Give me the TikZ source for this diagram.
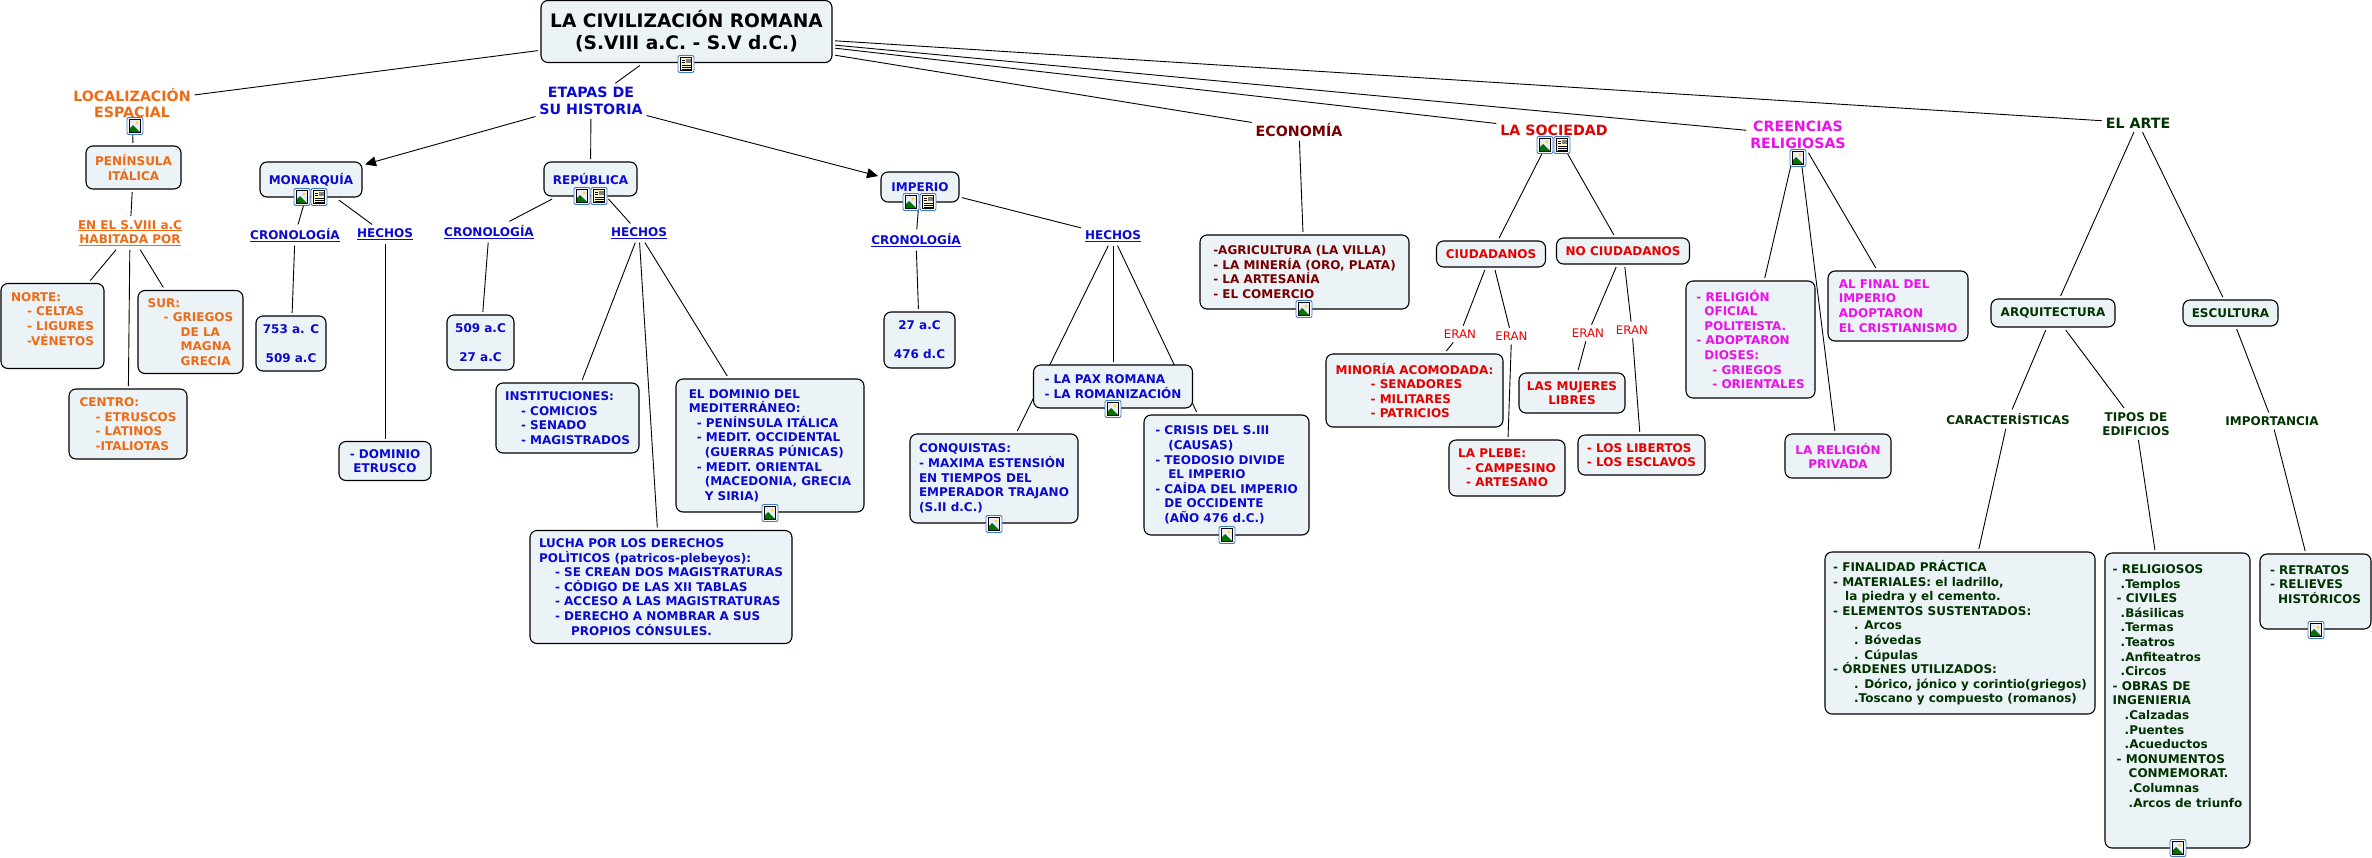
\documentclass[tikz,border=0pt]{standalone}
\usepackage{fontspec}
\setmainfont{DejaVu Sans}
\usetikzlibrary{shapes,arrows.meta,backgrounds}

\definecolor{boxfill}{HTML}{ECF3F6}
\definecolor{iconblue}{HTML}{3C78C8}
\definecolor{locorange}{HTML}{EE6A14}
\definecolor{histblue}{HTML}{0A0AD2}
\definecolor{econred}{HTML}{780000}
\definecolor{socred}{HTML}{E60000}
\definecolor{relmag}{HTML}{EC10EC}
\definecolor{artgreen}{HTML}{003300}

\newcommand{\tabto}[1]{\hspace*{#1pt}}

\tikzset{
    box/.style 2 args={draw=black, line width=1.1pt, fill=boxfill, rounded corners=7pt,
        inner sep=0pt, outer sep=3pt, align=left, font=\fontsize{12}{14.6}\selectfont\bfseries,
        minimum width=#1pt, minimum height=#2pt},
    title/.style={inner sep=1pt, outer sep=3pt, align=center, font=\fontsize{14.2}{16.8}\selectfont\bfseries},
    word/.style={inner sep=1pt, outer sep=3pt, align=center, font=\fontsize{12}{14.6}\selectfont\bfseries},
    eran/.style={inner sep=1pt, outer sep=3pt, font=\fontsize{11.8}{14}\selectfont},
    link/.style={line width=0.9pt, black},
    arrowlink/.style={link, -{Triangle[length=11pt,width=10pt]}},
    imgicon/.pic={
        \draw [iconblue, line width=.9pt, fill=white, rounded corners=2pt] (-8,-8.5) rectangle (8,8.5);
        \draw [black, line width=.7pt, fill=blue!8] (-5.5,-6.5) rectangle (5.5,6.5);
        \fill [green!45!black] (-5,6) -- (-5,2) -- (-2,-1) -- (5,6) -- cycle;
        \fill [yellow!80!orange] (2,-3) circle (1.7);
    },
    docicon/.pic={
        \draw [iconblue, line width=.9pt, fill=white, rounded corners=2pt] (-8,-8.5) rectangle (8,8.5);
        \draw [black, line width=.7pt, fill=yellow!20] (-5.5,-6.5) rectangle (5.5,6.5);
        \fill [gray] (0,-5.5) rectangle (4.5,-1);
        \foreach \y in {-4,-1.5}{%
            \draw [black, line width=.6pt] (-4.5,\y) -- (-1,\y);}
        \foreach \y in {1,3,5}{%
            \draw [black, line width=.6pt] (-4.5,\y) -- (4.5,\y);}
    }
}

\begin{document}
\begin{tikzpicture}[x=1pt,y=-1pt]
    \useasboundingbox (0,0) rectangle (2372,857);

    % Root of the map:
    \node [box={291}{62}, align=center, font=\fontsize{18.6}{22}\selectfont\bfseries] (root) at (686.5,31.5)
        {LA CIVILIZACIÓN ROMANA\\(S.VIII a.C. - S.V d.C.)};

    % Localizacion:
    \begin{scope}[text=locorange]
    \node [title] (loc) at (132,103) {LOCALIZACIÓN\\ESPACIAL};
    \node [box={95}{43}, align=center] (peninsula) at (133.5,167.5) {PENÍNSULA\\ITÁLICA};
    \node [word] (habitada) at (130,233) {\underline{EN EL S.VIII a.C}\\\underline{HABITADA POR}};
    \node [box={103}{85}] (norte) at (52.5,326)
        {NORTE:\\\tabto{16}- CELTAS\\\tabto{16}- LIGURES\\\tabto{16}-VÉNETOS\\~};
    \node [box={105}{83}] (sur) at (190.5,332)
        {SUR:\\\tabto{16}- GRIEGOS\\\tabto{33}DE LA\\\tabto{33}MAGNA\\\tabto{33}GRECIA};
    \node [box={118}{70}] (centro) at (128,424)
        {CENTRO:\\\tabto{16}- ETRUSCOS\\\tabto{16}- LATINOS\\\tabto{16}-ITALIOTAS};
    \end{scope}

    % Etapas, with its three periods:
    \begin{scope}[text=histblue]
    \node [title] (etapas) at (591,101) {ETAPAS DE\\SU HISTORIA};
    \node [box={102}{35}, align=center] (monarquia) at (311,179.5) {MONARQUÍA};
    \node [box={93}{34}, align=center] (republica) at (590.5,179) {REPÚBLICA};
    \node [box={78}{30}, align=center] (imperio) at (920,187) {IMPERIO};

    \node [word] (cronoa) at (295,235) {\underline{CRONOLOGÍA}};
    \node [word] (hechosa) at (385,234) {\underline{HECHOS}};
    \node [box={70}{55}, align=center] (fechaa) at (291,343.5) {753 a. C\\~\\509 a.C};
    \node [box={92}{39}, align=center] (etrusco) at (385,461) {- DOMINIO\\ETRUSCO};

    \node [word] (cronob) at (489,232) {\underline{CRONOLOGÍA}};
    \node [word] (hechosb) at (639,233) {\underline{HECHOS}};
    \node [box={67}{55}, align=center] (fechab) at (480.5,342.5) {509 a.C\\~\\27 a.C};
    \node [box={143}{70}] (instituciones) at (567.5,418)
        {INSTITUCIONES:\\\tabto{16}- COMICIOS\\\tabto{16}- SENADO\\\tabto{16}- MAGISTRADOS};
    \node [box={188}{133}] (dominio) at (770,445.5)
        {EL DOMINIO DEL\\MEDITERRÁNEO:\\\tabto{8}- PENÍNSULA ITÁLICA\\\tabto{8}- MEDIT. OCCIDENTAL\\%
        \tabto{16}(GUERRAS PÚNICAS)\\\tabto{8}- MEDIT. ORIENTAL\\\tabto{16}(MACEDONIA, GRECIA\\\tabto{16}Y SIRIA)};
    \node [box={262}{113}] (lucha) at (661,587)
        {LUCHA POR LOS DERECHOS\\POLÌTICOS (patricos-plebeyos):\\\tabto{16}- SE CREAN DOS MAGISTRATURAS\\%
        \tabto{16}- CÓDIGO DE LAS XII TABLAS\\\tabto{16}- ACCESO A LAS MAGISTRATURAS\\%
        \tabto{16}- DERECHO A NOMBRAR A SUS\\\tabto{32}PROPIOS CÓNSULES.};

    \node [word] (cronoc) at (916,240) {\underline{CRONOLOGÍA}};
    \node [word] (hechosc) at (1113,236) {\underline{HECHOS}};
    \node [box={71}{56}, align=center] (fechac) at (919.5,340) {27 a.C\\~\\476 d.C};
    \node [box={159}{43}] (pax) at (1113,386.5) {- LA PAX ROMANA\\- LA ROMANIZACIÓN};
    \node [box={168}{89}] (conquistas) at (994,478.5)
        {CONQUISTAS:\\- MAXIMA ESTENSIÓN\\EN TIEMPOS DEL\\EMPERADOR TRAJANO\\(S.II d.C.)};
    \node [box={165}{120}] (crisis) at (1226.5,475)
        {- CRISIS DEL S.III\\\tabto{13}(CAUSAS)\\- TEODOSIO DIVIDE\\\tabto{13}EL IMPERIO\\%
        - CAÍDA DEL IMPERIO\\\tabto{9}DE OCCIDENTE\\\tabto{9}(AÑO 476 d.C.)};
    \end{scope}

    % Economia:
    \begin{scope}[text=econred]
    \node [title] (economia) at (1299,130) {ECONOMÍA};
    \node [box={209}{74}] (econ) at (1304.5,272)
        {-AGRICULTURA (LA VILLA)\\- LA MINERÍA (ORO, PLATA)\\- LA ARTESANÍA\\- EL COMERCIO};
    \end{scope}

    % Sociedad:
    \begin{scope}[text=socred]
    \node [title] (sociedad) at (1554,130) {LA SOCIEDAD};
    \node [box={109}{26}, align=center] (ciudadanos) at (1491,254) {CIUDADANOS};
    \node [box={133}{26}, align=center] (nociudadanos) at (1623,251) {NO CIUDADANOS};
    \node [eran] (erana) at (1460,334) {ERAN};
    \node [eran] (eranb) at (1511.5,336) {ERAN};
    \node [eran] (eranc) at (1588,333) {ERAN};
    \node [eran] (erand) at (1632,330) {ERAN};
    \node [box={177}{73}] (minoria) at (1414.5,390.5)
        {MINORÍA ACOMODADA:\\\tabto{35}- SENADORES\\\tabto{35}- MILITARES\\\tabto{35}- PATRICIOS};
    \node [box={116}{56}] (plebe) at (1507,468) {LA PLEBE:\\\tabto{8}- CAMPESINO\\\tabto{8}- ARTESANO};
    \node [box={106}{40}, align=center] (mujeres) at (1572,393) {LAS MUJERES\\LIBRES};
    \node [box={127}{40}] (libertos) at (1641.5,455) {- LOS LIBERTOS\\- LOS ESCLAVOS};
    \end{scope}

    % Creencias:
    \begin{scope}[text=relmag]
    \node [title] (creencias) at (1798,135) {CREENCIAS\\RELIGIOSAS};
    \node [box={129}{117}] (oficial) at (1750.5,339.5)
        {- RELIGIÓN\\\tabto{8}OFICIAL\\\tabto{8}POLITEISTA.\\- ADOPTARON\\\tabto{8}DIOSES:\\%
        \tabto{16}- GRIEGOS\\\tabto{16}- ORIENTALES};
    \node [box={140}{70}] (cristianismo) at (1898,306)
        {AL FINAL DEL\\IMPERIO\\ADOPTARON\\EL CRISTIANISMO};
    \node [box={106}{44}, align=center] (privada) at (1838,456) {LA RELIGIÓN\\PRIVADA};
    \end{scope}

    % Arte:
    \begin{scope}[text=artgreen]
    \node [title] (arte) at (2138,123) {EL ARTE};
    \node [box={124}{28}, align=center] (arquitectura) at (2053,313) {ARQUITECTURA};
    \node [box={95}{26}, align=center] (escultura) at (2230.5,313) {ESCULTURA};
    \node [word] (caract) at (2008,419) {CARACTERÍSTICAS};
    \node [word] (tipos) at (2136,424) {TIPOS DE\\EDIFICIOS};
    \node [word] (importancia) at (2272,421) {IMPORTANCIA};
    \node [box={270}{162}] (finalidad) at (1960,633)
        {- FINALIDAD PRÁCTICA\\- MATERIALES: el ladrillo,\\\tabto{12}la piedra y el cemento.\\%
        - ELEMENTOS SUSTENTADOS:\\\tabto{21}. Arcos\\\tabto{21}. Bóvedas\\\tabto{21}. Cúpulas\\%
        - ÓRDENES UTILIZADOS:\\\tabto{21}. Dórico, jónico y corintio(griegos)\\\tabto{21}.Toscano y compuesto (romanos)};
    \node [box={145}{295}] (edificios) at (2177.5,700.5)
        {- RELIGIOSOS\\\tabto{8}.Templos\\\tabto{4}- CIVILES\\\tabto{8}.Básilicas\\\tabto{8}.Termas\\%
        \tabto{8}.Teatros\\\tabto{8}.Anfiteatros\\\tabto{8}.Circos\\- OBRAS DE\\INGENIERIA\\%
        \tabto{12}.Calzadas\\\tabto{12}.Puentes\\\tabto{12}.Acueductos\\\tabto{4}- MONUMENTOS\\%
        \tabto{16}CONMEMORAT.\\\tabto{16}.Columnas\\\tabto{16}.Arcos de triunfo\\~\\~};
    \node [box={111}{75}] (retratos) at (2315.5,591.5)
        {- RETRATOS\\- RELIEVES\\\tabto{8}HISTÓRICOS\\~};
    \end{scope}

    % Connectors go behind the boxes:
    \begin{scope}[on background layer]
    \foreach \a/\b in {root/loc,root/etapas,root/economia,root/sociedad,root/creencias,root/arte,
        loc/peninsula,peninsula/habitada,habitada/norte,habitada/sur,habitada/centro,
        etapas/republica,monarquia/cronoa,monarquia/hechosa,cronoa/fechaa,hechosa/etrusco,
        republica/cronob,republica/hechosb,cronob/fechab,hechosb/instituciones,hechosb/dominio,hechosb/lucha,
        imperio/cronoc,imperio/hechosc,cronoc/fechac,hechosc/pax,hechosc/conquistas,hechosc/crisis,
        economia/econ,sociedad/ciudadanos,sociedad/nociudadanos,
        ciudadanos/erana,ciudadanos/eranb,erana/minoria,eranb/plebe,
        nociudadanos/eranc,nociudadanos/erand,eranc/mujeres,erand/libertos,
        creencias/oficial,creencias/cristianismo,creencias/privada,
        arte/arquitectura,arte/escultura,arquitectura/caract,arquitectura/tipos,escultura/importancia,
        caract/finalidad,tipos/edificios,importancia/retratos}{%
        \draw [link] (\a) -- (\b);}
    \draw [arrowlink] (etapas) -- (monarquia);
    \draw [arrowlink] (etapas) -- (imperio);
    \end{scope}

    % Icons sit on top of everything:
    \foreach \x/\y in {135/126,302/197,582/196,911/202,770/513,1113/409,994/524,1227/535,
        1304/309,1545/145,1798/158,2178/848,2316/630}{%
        \pic at (\x,\y) {imgicon};}
    \foreach \x/\y in {686/64,319/197,599/196,928/202,1562/145}{%
        \pic at (\x,\y) {docicon};}
\end{tikzpicture}
\end{document}
